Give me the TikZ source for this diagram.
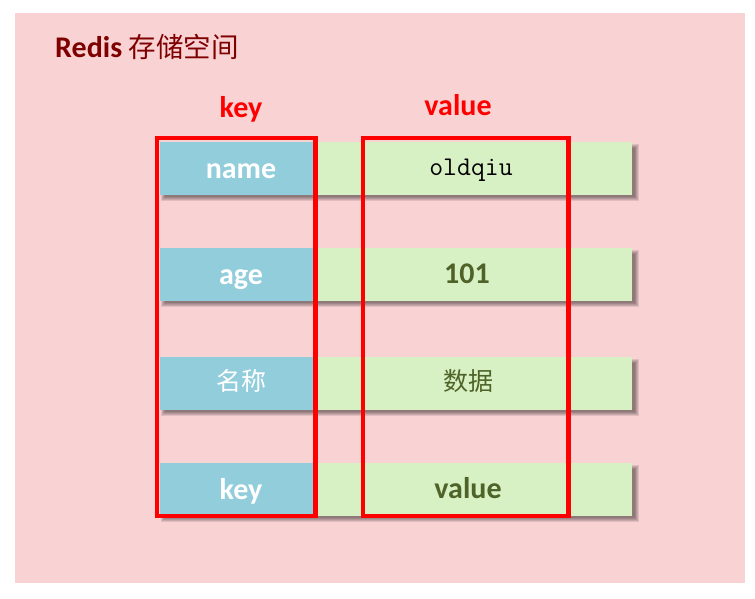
\documentclass[tikz,border=0pt]{standalone}
\usepackage{fontspec}
\setmainfont{Carlito}
\newfontfamily\cjk{Noto Sans CJK SC}
\definecolor{bgpink}{HTML}{F9D2D4}
\definecolor{keyblue}{HTML}{92CDDC}
\definecolor{valgreen}{HTML}{D8F1C4}
\definecolor{valtext}{HTML}{4F6228}
\definecolor{titlered}{HTML}{7F0000}
\definecolor{boxred}{HTML}{FF0000}
\begin{document}
\begin{tikzpicture}[x=1pt,y=-1pt,
  keybox/.style={fill=keyblue, minimum width=155pt, minimum height=53pt, inner sep=0pt, outer sep=0pt, anchor=north west},
  valbox/.style={fill=valgreen, minimum width=317pt, minimum height=53pt, inner sep=0pt, outer sep=0pt, anchor=north west},
  keytext/.style={text=white, anchor=base, inner sep=0pt, font=\bfseries\fontsize{30}{31}\selectfont},
  valtext/.style={text=valtext, anchor=base, inner sep=0pt, font=\bfseries\fontsize{30}{31}\selectfont},
  headtext/.style={text=boxred, anchor=base, inner sep=0pt, font=\bfseries\fontsize{30}{31}\selectfont},
  cjktext/.style={anchor=base, inner sep=0pt, font=\cjk\fontsize{25}{26}\selectfont},
  redframe/.style={draw=boxred, line width=4.5pt, inner sep=0pt, outer sep=0pt, anchor=north west},
  shadowbar/.style={fill=black, opacity=0.1}
]
\useasboundingbox (0,0) rectangle (755,598);
\fill[white] (0,0) rectangle (755,598);
\fill[bgpink] (15,13) rectangle (745,583);

\node[anchor=base west, text=titlered, inner sep=0pt] (title) at (55,57)
  {\fontsize{30}{31}\selectfont\bfseries Redis \cjk\mdseries\fontsize{27.5}{28}\selectfont 存储空间};

\node[headtext] (khead) at (241,117) {key};
\node[headtext] (vhead) at (458,115) {value};

% rows: tops 142, 248, 357, 463
\foreach \t in {142,248,357,463}{
  \fill[shadowbar] (161,\t+2) rectangle (639,\t+59);
  \fill[shadowbar] (162,\t+3) rectangle (638,\t+58);
  \fill[shadowbar] (163,\t+4) rectangle (637,\t+57);
  \fill[shadowbar] (164,\t+5) rectangle (636,\t+56);
  \fill[shadowbar] (165,\t+6) rectangle (635,\t+55);
}

\node[keybox] (k1) at (160,142) {};
\node[valbox] (v1) at (315,142) {};
\node[keybox] (k2) at (160,248) {};
\node[valbox] (v2) at (315,248) {};
\node[keybox] (k3) at (160,357) {};
\node[valbox] (v3) at (315,357) {};
\node[keybox] (k4) at (160,463) {};
\node[valbox] (v4) at (315,463) {};

\node[keytext] (k1t) at (241,178) {name};
\node[keytext] (k2t) at (241,284) {age};
\node[cjktext, text=white] (k3t) at (241,390) {名称};
\node[keytext] (k4t) at (241,499) {key};

\node[text=black, anchor=base, inner sep=0pt, font=\ttfamily\fontsize{27}{28}\selectfont] (v1t) at (471,175) {oldqiu};
\node[valtext] (v2t) at (467,283) {101};
\node[cjktext, text=valtext] (v3t) at (468,390) {数据};
\node[valtext] (v4t) at (468,498) {value};

\node[redframe, minimum width=158.5pt, minimum height=378pt] (kframe) at (157,138) {};
\node[redframe, minimum width=205.5pt, minimum height=378pt] (vframe) at (363,138) {};
\end{tikzpicture}
\end{document}
